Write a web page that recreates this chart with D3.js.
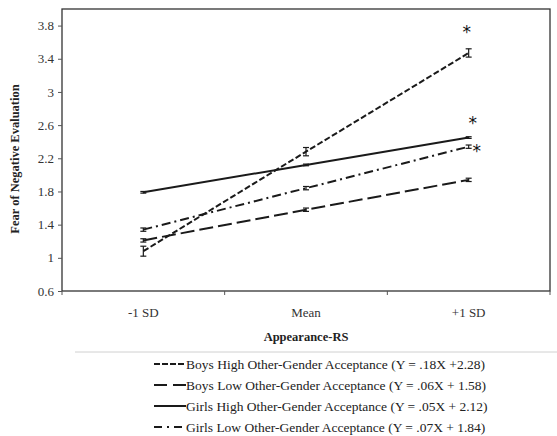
<!DOCTYPE html>
<html lang="en">
<head>
<meta charset="utf-8">
<title>Fear of Negative Evaluation</title>
<script src="https://d3js.org/d3.v7.min.js"></script>
<style>
  body { margin: 0; background: #fff; }
  svg text { font-family: "Liberation Serif", "Times New Roman", serif !important; }
  svg text.star { font-family: "DejaVu Sans", sans-serif !important; }
</style>
</head>
<body>
<div id="chart"></div>
<script>
// data
var categories = ['-1 SD', 'Mean', '+1 SD'];
var yTicks = [0.6, 1, 1.4, 1.8, 2.2, 2.6, 3, 3.4, 3.8];

var seriesNames = [
  'Boys High Other-Gender Acceptance (Y = .18X +2.28)',
  'Boys Low Other-Gender Acceptance (Y = .06X + 1.58)',
  'Girls High Other-Gender Acceptance (Y = .05X + 2.12)',
  'Girls Low Other-Gender Acceptance (Y = .07X + 1.84)'
];
var boysHigh  = [1.08, 2.28, 3.47];
var boysLow   = [1.21, 1.58, 1.94];
var girlsHigh = [1.79, 2.12, 2.45];
var girlsLow  = [1.34, 1.84, 2.34];
var boysHighErr  = [0.06, 0.05, 0.05];
var boysLowErr   = [0.02, 0.02, 0.02];
var girlsHighErr = [0.01, 0.01, 0.01];
var girlsLowErr  = [0.02, 0.02, 0.02];
var starred = [true, false, true, true];

var series = [boysHigh, boysLow, girlsHigh, girlsLow];
var errors = [boysHighErr, boysLowErr, girlsHighErr, girlsLowErr];
var dashes = ['6,2.5', '14,5', null, '9,4,2,4'];
var legendDashes = ['6,2', '13,6,5,0', null, '8,5,2,5'];
// asterisk offsets relative to the +1 SD point
var starOffsets = [[-2, -15], [0, 0], [4, -9], [8, 10]];

var W = 557, H = 436;
var plot = {left: 62, right: 550, top: 9, bottom: 291};

var svg = d3.select('#chart').append('svg')
  .attr('width', W).attr('height', H);

var x = d3.scaleBand().domain(categories).range([plot.left, plot.right]);
var y = d3.scaleLinear().domain([0.6, 4.0]).range([plot.bottom, plot.top]);
var ink = '#1a1a1a';

// plot frame
svg.append('rect')
  .attr('x', plot.left).attr('y', plot.top)
  .attr('width', plot.right - plot.left).attr('height', plot.bottom - plot.top)
  .attr('fill', 'none').attr('stroke', '#333').attr('stroke-width', 1.3);

// y axis
var yAxis = svg.append('g')
  .attr('transform', 'translate(' + plot.left + ',0)')
  .call(d3.axisLeft(y).tickValues(yTicks).tickSize(4).tickPadding(4).tickFormat(d3.format('')));
yAxis.select('.domain').remove();
yAxis.selectAll('line').attr('stroke', '#555');
yAxis.selectAll('text').attr('font-size', 13).attr('fill', '#333');

// x axis: tick marks at band edges, labels at centres
var xAxis = svg.append('g')
  .attr('transform', 'translate(0,' + plot.bottom + ')');
xAxis.selectAll('line.tk')
  .data(categories.concat(['end']))
  .enter().append('line')
  .attr('x1', function(d, i) { return plot.left + i * x.step(); })
  .attr('x2', function(d, i) { return plot.left + i * x.step(); })
  .attr('y1', 0).attr('y2', 4).attr('stroke', '#555');
xAxis.selectAll('text')
  .data(categories)
  .enter().append('text')
  .attr('x', function(d) { return x(d) + x.bandwidth() / 2; })
  .attr('y', 26)
  .attr('text-anchor', 'middle')
  .attr('font-size', 13).attr('fill', '#333')
  .text(function(d) { return d; });

// axis titles
svg.append('text')
  .attr('x', (plot.left + plot.right) / 2).attr('y', 341)
  .attr('text-anchor', 'middle').attr('font-size', 12.5).attr('font-weight', 'bold')
  .attr('fill', '#222')
  .text('Appearance-RS');
svg.append('text')
  .attr('transform', 'translate(19,159) rotate(-90)')
  .attr('text-anchor', 'middle').attr('font-size', 12.5).attr('font-weight', 'bold')
  .attr('fill', '#222')
  .text('Fear of Negative Evaluation');

var line = d3.line()
  .x(function(d, i) { return x(categories[i]) + x.bandwidth() / 2; })
  .y(function(d) { return y(d); });

series.forEach(function(vals, s) {
  svg.append('path')
    .datum(vals)
    .attr('fill', 'none')
    .attr('stroke', ink)
    .attr('stroke-width', 2)
    .attr('stroke-dasharray', dashes[s])
    .attr('d', line);

  // error bars
  vals.forEach(function(v, i) {
    var cx = x(categories[i]) + x.bandwidth() / 2;
    var e = errors[s][i];
    var g = svg.append('g').attr('stroke', ink).attr('stroke-width', 1.2);
    g.append('line').attr('x1', cx).attr('x2', cx).attr('y1', y(v - e)).attr('y2', y(v + e));
    g.append('line').attr('x1', cx - 3).attr('x2', cx + 3).attr('y1', y(v - e)).attr('y2', y(v - e));
    g.append('line').attr('x1', cx - 3).attr('x2', cx + 3).attr('y1', y(v + e)).attr('y2', y(v + e));
  });

  if (starred[s]) {
    var last = vals.length - 1;
    svg.append('text')
      .attr('class', 'star')
      .attr('x', x(categories[last]) + x.bandwidth() / 2 + starOffsets[s][0])
      .attr('y', y(vals[last]) + starOffsets[s][1])
      .attr('text-anchor', 'middle')
      .attr('font-size', 17).attr('fill', '#111')
      .text('*');
  }
});

// legend
svg.append('line')
  .attr('x1', 75).attr('x2', W).attr('y1', 352).attr('y2', 352)
  .attr('stroke', '#d0d0d0').attr('stroke-width', 1);

var legend = svg.append('g');
seriesNames.forEach(function(name, s) {
  var ly = 364 + s * 21;
  legend.append('line')
    .attr('x1', 154).attr('x2', 186).attr('y1', ly).attr('y2', ly)
    .attr('stroke', ink).attr('stroke-width', 2)
    .attr('stroke-dasharray', legendDashes[s]);
  legend.append('text')
    .attr('x', 186).attr('y', ly + 4.5)
    .attr('font-size', 13.5).attr('fill', '#222')
    .text(name);
});
</script>
</body>
</html>
